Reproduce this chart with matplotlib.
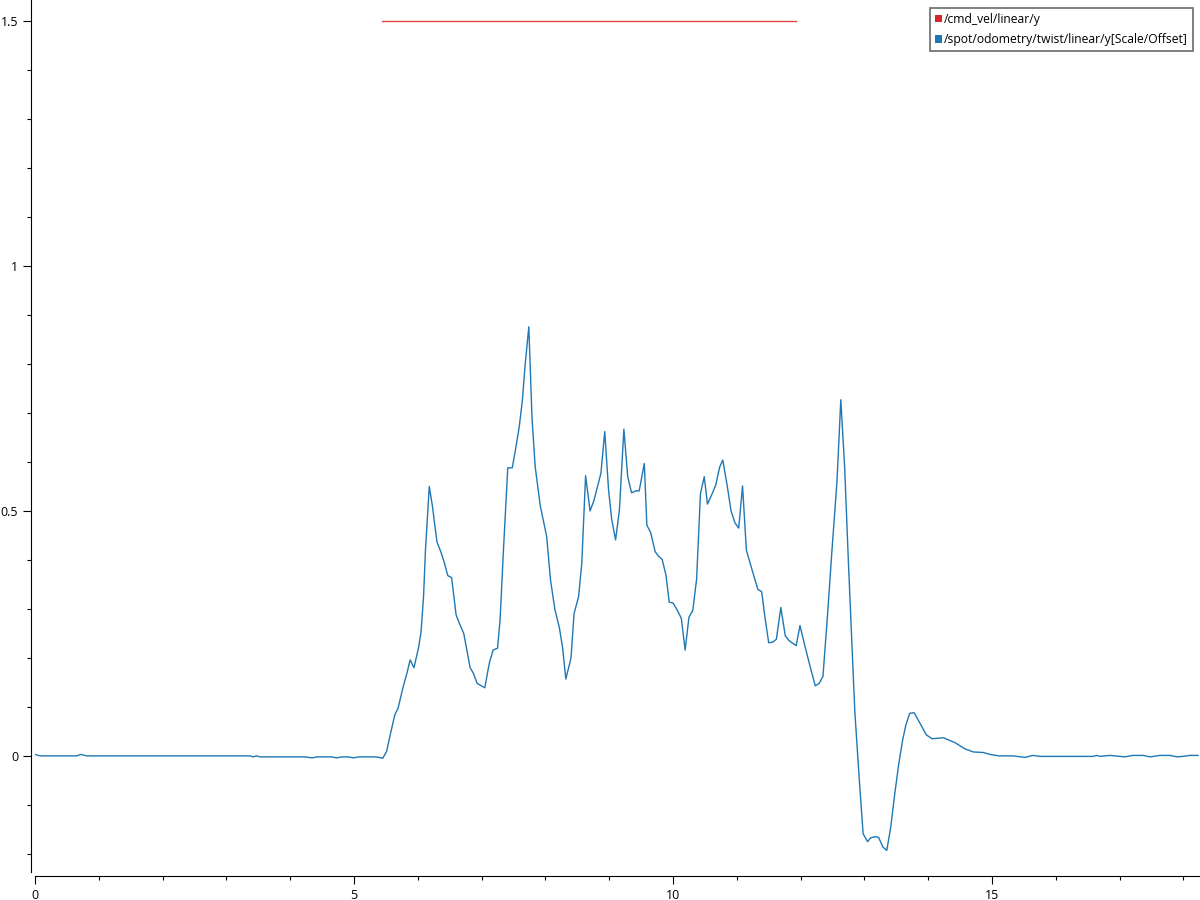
import matplotlib
matplotlib.use("Agg")
import matplotlib.pyplot as plt
from matplotlib.ticker import MultipleLocator, FuncFormatter
from matplotlib.patches import Patch

plt.rcParams["font.family"] = ["Open Sans", "DejaVu Sans"]

# /cmd_vel/linear/y
cmd_t = [5.44, 11.93]
cmd_v = [1.5, 1.5]

# /spot/odometry/twist/linear/y
odom_t = [0.0, 0.08, 0.65, 0.72, 0.81, 3.37, 3.42, 3.47, 3.53, 4.23, 4.34, 4.43,
          4.65, 4.73, 4.81, 4.91, 4.99, 5.07, 5.33, 5.43, 5.45, 5.51, 5.58, 5.64,
          5.69, 5.77, 5.83, 5.88, 5.94, 6.01, 6.05, 6.09, 6.12, 6.18, 6.23, 6.30,
          6.36, 6.41, 6.47, 6.53, 6.60, 6.65, 6.72, 6.82, 6.87, 6.93, 7.05, 7.12,
          7.18, 7.25, 7.29, 7.34, 7.41, 7.48, 7.53, 7.59, 7.64, 7.68, 7.74, 7.79,
          7.84, 7.92, 8.02, 8.08, 8.15, 8.22, 8.27, 8.32, 8.40, 8.45, 8.52, 8.57,
          8.63, 8.70, 8.76, 8.87, 8.93, 8.99, 9.04, 9.10, 9.16, 9.23, 9.29, 9.35,
          9.42, 9.47, 9.55, 9.59, 9.65, 9.72, 9.77, 9.83, 9.89, 9.94, 10.00, 10.06,
          10.13, 10.19, 10.25, 10.31, 10.37, 10.43, 10.49, 10.54, 10.61, 10.67, 10.73,
          10.78, 10.85, 10.91, 10.97, 11.03, 11.09, 11.15, 11.21, 11.27, 11.33, 11.39,
          11.44, 11.50, 11.56, 11.62, 11.69, 11.76, 11.82, 11.93, 11.99, 12.07, 12.15,
          12.23, 12.29, 12.35, 12.42, 12.49, 12.57, 12.63, 12.69, 12.75, 12.85, 12.92,
          12.98, 13.05, 13.10, 13.17, 13.22, 13.29, 13.35, 13.41, 13.48, 13.54, 13.60,
          13.65, 13.71, 13.78, 13.87, 13.97, 14.06, 14.24, 14.42, 14.58, 14.71, 14.86,
          14.97, 15.11, 15.33, 15.52, 15.64, 15.75, 16.58, 16.65, 16.69, 16.85, 17.08,
          17.21, 17.37, 17.48, 17.63, 17.79, 17.90, 17.99, 18.10, 18.23]
odom_v = [0.003, 0.0, 0.0, 0.003, 0.0, 0.0, -0.002, 0.0, -0.002, -0.002, -0.004, -0.002,
          -0.002, -0.004, -0.002, -0.002, -0.004, -0.002, -0.002, -0.004, -0.005, 0.009, 0.05, 0.084,
          0.097, 0.141, 0.169, 0.196, 0.18, 0.22, 0.252, 0.325, 0.42, 0.55, 0.509, 0.437,
          0.417, 0.397, 0.368, 0.364, 0.288, 0.271, 0.25, 0.18, 0.169, 0.148, 0.139, 0.189,
          0.216, 0.22, 0.278, 0.414, 0.588, 0.588, 0.624, 0.672, 0.727, 0.795, 0.876, 0.69,
          0.59, 0.51, 0.448, 0.359, 0.298, 0.261, 0.22, 0.157, 0.199, 0.291, 0.325, 0.393,
          0.572, 0.5, 0.521, 0.577, 0.662, 0.543, 0.482, 0.441, 0.502, 0.667, 0.57, 0.537,
          0.541, 0.541, 0.597, 0.471, 0.456, 0.417, 0.408, 0.401, 0.369, 0.314, 0.312, 0.299,
          0.281, 0.216, 0.283, 0.297, 0.361, 0.535, 0.57, 0.514, 0.534, 0.553, 0.589,
          0.604, 0.551, 0.5, 0.476, 0.465, 0.551, 0.42, 0.393, 0.366, 0.34, 0.335,
          0.284, 0.231, 0.232, 0.238, 0.303, 0.245, 0.235, 0.225, 0.266, 0.223, 0.182,
          0.143, 0.148, 0.162, 0.284, 0.417, 0.56, 0.727, 0.59, 0.393, 0.09, -0.049,
          -0.159, -0.175, -0.167, -0.165, -0.166, -0.186, -0.193, -0.148, -0.073, -0.015, 0.033,
          0.063, 0.087, 0.088, 0.067, 0.043, 0.035, 0.037, 0.027, 0.014, 0.008, 0.007,
          0.003, 0.0, 0.0, -0.003, 0.001, -0.001, -0.001, 0.001, -0.001, 0.001, -0.002,
          0.001, 0.001, -0.002, 0.001, 0.001, -0.002, -0.001, 0.001, 0.001]

labels = ["/cmd_vel/linear/y", "/spot/odometry/twist/linear/y[Scale/Offset]"]
colors = ["#d62728", "#1f77b4"]

fig = plt.figure(figsize=(12, 9), dpi=100)
ax = fig.add_axes([35 / 1200, 28 / 900, 1165 / 1200, 872 / 900])

ax.plot(cmd_t, cmd_v, color="#e0453f", lw=1.0)
ax.plot(odom_t, odom_v, color=colors[1], lw=1.0)

ax.set_xlim(0, 18.26)
ax.set_ylim(-0.237, 1.543)

for side in ["top", "right"]:
    ax.spines[side].set_visible(False)
for side in ["left", "bottom"]:
    ax.spines[side].set_position(("outward", 3))
    ax.spines[side].set_linewidth(0.8)

ax.xaxis.set_major_locator(MultipleLocator(5))
ax.xaxis.set_minor_locator(MultipleLocator(1))
ax.yaxis.set_major_locator(MultipleLocator(0.5))
ax.yaxis.set_minor_locator(MultipleLocator(0.1))
fmt = FuncFormatter(lambda v, p: "{:g}".format(round(v, 3)))
ax.xaxis.set_major_formatter(fmt)
ax.yaxis.set_major_formatter(fmt)
ax.tick_params(which="major", direction="out", length=6, width=0.8, labelsize=9, pad=3)
ax.tick_params(which="minor", direction="out", length=3, width=0.8)

handles = [Patch(facecolor=c, edgecolor="none") for c in colors]
leg = ax.legend(handles, labels, loc="upper right", bbox_to_anchor=(0.994, 0.991),
                borderaxespad=0, fancybox=False, fontsize=8.7, handlelength=0.6,
                handleheight=0.6, handletextpad=0.2, labelspacing=0.6,
                borderpad=0.4, framealpha=1)
leg.get_frame().set_edgecolor("#6a6a6a")
leg.get_frame().set_linewidth(1.2)

fig.savefig("out.png", dpi=100)
